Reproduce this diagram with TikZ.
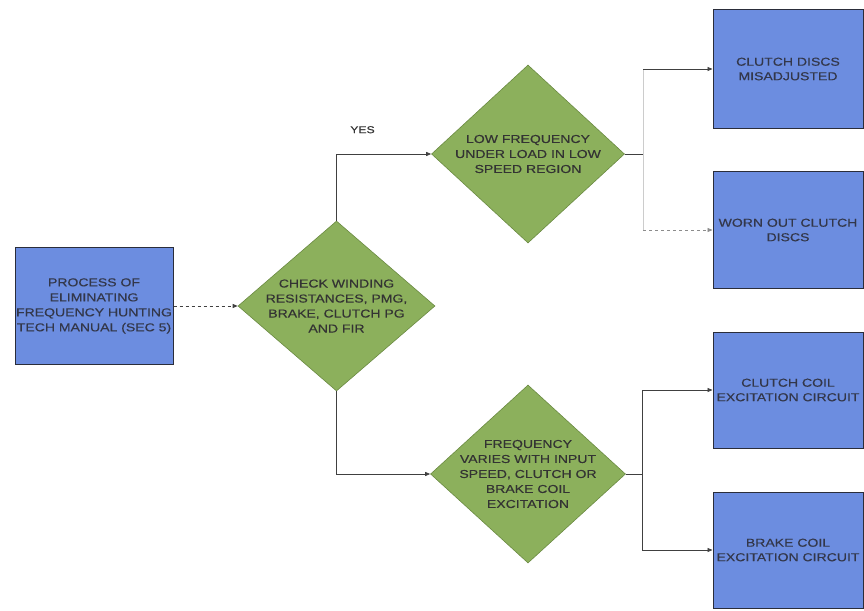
\documentclass[tikz,border=0pt]{standalone}
\usepackage{fontspec}
\newfontfamily\chartfont[FakeStretch=1.22,FakeBold=0.3]{Liberation Sans}
\usepackage{tikz}
\usetikzlibrary{shapes,shapes.geometric,arrows,positioning,calc,arrows.meta}
\definecolor{boxblue}{HTML}{6C8DE0}
\definecolor{boxedge}{HTML}{2A2D3A}
\definecolor{decgreen}{HTML}{8CB05C}
\definecolor{decedge}{HTML}{6A8A42}
\definecolor{inkgray}{HTML}{33374A}
\tikzset{
    causebox/.style={draw=boxedge, line width=1pt, fill=boxblue,
        minimum width=150, minimum height=116, inner sep=0pt},
    checkdia/.style={diamond, draw=decedge, line width=0.6pt, fill=decgreen, inner sep=0pt},
    boxtext/.style={align=center, text=inkgray, inner sep=0pt,
        font=\chartfont\fontsize{11.5}{14.5}\selectfont},
    diatext/.style={align=center, text=black!80, inner sep=0pt,
        font=\chartfont\fontsize{11.5}{15}\selectfont},
    flow/.style={draw=black!75, line width=0.8pt, -{Triangle[length=5pt,width=4pt]}},
    plainline/.style={draw=black!75, line width=0.8pt}
}
\begin{document}
\begin{tikzpicture}[x=1pt,y=-1pt]
    \useasboundingbox (0,0) rectangle (864,610);
    % boxes and decisions
    \node[causebox, minimum width=158, minimum height=117,
        label={[boxtext, font=\chartfont\fontsize{11.5}{15}\selectfont]center:PROCESS OF\\ELIMINATING\\FREQUENCY HUNTING\\TECH MANUAL (SEC 5)}]
        (proc) at (94,306) {};
    \node[checkdia, minimum width=197, minimum height=170,
        label={[diatext]center:CHECK WINDING\\RESISTANCES, PMG,\\BRAKE, CLUTCH PG\\AND FIR}]
        (chk) at (336.5,306) {};
    \node[checkdia, minimum width=193, minimum height=178,
        label={[diatext]center:LOW FREQUENCY\\UNDER LOAD IN LOW\\SPEED REGION}]
        (lowf) at (528,154) {};
    \node[checkdia, minimum width=195, minimum height=178,
        label={[diatext]center:FREQUENCY\\VARIES WITH INPUT\\SPEED, CLUTCH OR\\BRAKE COIL\\EXCITATION}]
        (varf) at (528,474) {};
    \node[causebox, minimum height=118,
        label={[boxtext]center:CLUTCH DISCS\\MISADJUSTED}] (misadj) at (788,69) {};
    \node[causebox, minimum height=117,
        label={[boxtext]center:WORN OUT CLUTCH\\DISCS}] (worn) at (788,230) {};
    \node[causebox, minimum height=116,
        label={[boxtext]center:CLUTCH COIL\\EXCITATION CIRCUIT}] (ccoil) at (788,390) {};
    \node[causebox, minimum height=116,
        label={[boxtext]center:BRAKE COIL\\EXCITATION CIRCUIT}] (bcoil) at (788,550) {};
    % connectors
    \draw[flow, dashed] (proc.east) -- (chk.west);
    \draw[flow] (chk.north) |- (lowf.west) node[pos=0.5, above=17pt, xshift=26pt, text=black!80,
        font=\chartfont\fontsize{10}{12}\selectfont] (yes) {YES};
    \draw[flow] (chk.south) |- (varf.west);
    \coordinate (topsplit) at (643,154);
    \coordinate (botsplit) at (642,474);
    \draw[plainline] (lowf.east) -- (topsplit);
    \draw[draw=black!20, line width=0.6pt] (topsplit |- misadj.west) -- (topsplit |- worn.west);
    \draw[flow] (topsplit |- misadj.west) -- (misadj.west);
    \draw[flow, draw=black!45, dashed] (topsplit |- worn.west) -- (worn.west);
    \draw[plainline] (varf.east) -- (botsplit);
    \draw[flow] (botsplit) |- (ccoil.west);
    \draw[flow] (botsplit) |- (bcoil.west);
\end{tikzpicture}
\end{document}
